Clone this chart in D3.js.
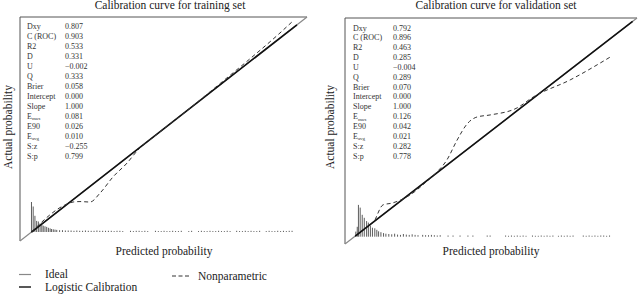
<!DOCTYPE html>
<html><head><meta charset="utf-8">
<script src="https://cdn.jsdelivr.net/npm/d3@7"></script>
<style>body{margin:0;background:#fff}svg{display:block;font-family:"Liberation Serif","DejaVu Serif",serif}</style>
</head><body><svg id="c" width="638" height="294"></svg>
<script>
const titles = ["Calibration curve for training set", "Calibration curve for validation set"];
const statLabels = ["Dxy","C (ROC)","R2","D","U","Q","Brier","Intercept","Slope","E|max","E90","E|avg","S:z","S:p"];
const trainStats = ["0.807","0.903","0.533","0.331","\u22120.002","0.333","0.058","0.000","1.000","0.081","0.026","0.010","\u22120.255","0.799"];
const valStats = ["0.792","0.896","0.463","0.285","\u22120.004","0.289","0.070","0.000","1.000","0.126","0.042","0.021","0.282","0.778"];

const trainLogistic = [0.040, 0.965];
const valLogistic = [0.035, 0.985];

const trainNpX = [0.040,0.157,0.185,0.209,0.244,0.279,0.324,0.373,0.408,0.488,0.599,0.700,0.800,0.900,0.951];
const trainNpY = [0.040,0.161,0.174,0.176,0.174,0.214,0.286,0.348,0.402,0.487,0.600,0.706,0.812,0.922,0.982];
const valNpX = [0.103,0.110,0.130,0.161,0.223,0.274,0.308,0.349,0.384,0.418,0.452,0.497,0.589,0.644,0.771,0.908];
const valNpY = [0.106,0.128,0.173,0.181,0.217,0.270,0.310,0.372,0.460,0.531,0.562,0.571,0.602,0.650,0.726,0.827];

const trainSpikeX = [0.040,0.046,0.052,0.058,0.064,0.070,0.076,0.081,0.087,0.093,0.099,0.105,0.110,0.116,0.122,
 0.128,0.138,0.148,0.158,0.168,0.178,0.188,0.198,0.208,0.218,0.228,0.238,0.248,0.258,0.268,0.278,0.288,0.298,0.308,0.318,0.328,0.338,0.348,0.358,
 0.385,0.395,0.405,0.415,0.425,0.435,0.445,
 0.472,0.482,0.492,0.502,0.512,0.522,0.532,0.542,0.552,0.562,
 0.588,0.598,
 0.622,0.632,0.642,0.652,0.662,0.672,0.682,0.692,0.702,0.712,0.722,0.732,
 0.755,0.765,0.775,0.785,0.795,0.805,0.815,0.825,0.835,
 0.858,0.868,0.878,0.888,0.898,0.908,0.918,0.928,0.938,0.948];
const trainSpikeN = [100,85,54,37,35,28,24,21,19,17,14,12,10,9,8,
 7,6,6,5,5,5,4,5,4,4,5,4,4,4,5,4,4,4,4,4,3,4,4,3,
 4,3,4,4,3,4,3,
 4,3,3,4,3,3,4,3,3,4,
 3,4,
 3,4,3,3,4,3,3,4,3,3,4,3,
 4,3,3,4,3,4,3,3,4,
 3,4,3,3,4,3,4,3,4,4];

const valSpikeX = [0.037,0.042,0.046,0.052,0.059,0.066,0.074,0.080,0.087,0.094,0.102,0.109,0.115,0.123,0.132,0.140,
 0.150,0.160,0.170,0.180,0.190,0.200,0.210,0.220,0.230,0.240,0.250,
 0.266,0.276,0.286,0.296,0.306,0.316,0.326,
 0.353,0.370,0.394,0.421,0.438,
 0.487,0.497,
 0.550,0.560,0.570,0.580,0.590,0.600,0.610,0.620,
 0.642,0.652,0.662,0.672,0.682,0.692,0.702,0.712,
 0.731,0.741,0.751,0.761,0.771,0.781,
 0.816,0.826,0.836,0.846,0.856,0.866,0.876,0.886,0.896,0.906];
const valSpikeN = [17,33,106,97,73,63,52,47,37,30,28,23,18,15,12,10,
 9,8,10,7,6,9,7,6,8,6,5,
 6,5,5,6,5,4,5,
 4,4,4,4,4,
 4,4,
 4,3,4,3,4,3,4,3,
 4,3,3,4,3,4,3,4,
 3,4,3,4,3,4,
 4,3,4,3,4,3,4,4,3,4];

const panels = [
  {x0:20, x1:307, y0:241, y1:17, base:232, title:titles[0], stats:trainStats, lg:trainLogistic, npx:trainNpX, npy:trainNpY, sx:trainSpikeX, sn:trainSpikeN,
   tx:170, lx:7.5, xl:164, labX:27, valX:65, row0:29, rowStep:9.97},
  {x0:345, x1:637, y0:244, y1:18, base:236.7, title:titles[1], stats:valStats, lg:valLogistic, npx:valNpX, npy:valNpY, sx:valSpikeX, sn:valSpikeN,
   tx:496, lx:330, xl:491, labX:353, valX:393, row0:30.5, rowStep:9.85}
];

const svg = d3.select("#c");
const spikeH = d3.scaleLinear().domain([0,100]).range([0,30]);

panels.forEach(p => {
  const x = d3.scaleLinear().domain([0,1]).range([p.x0,p.x1]);
  const y = d3.scaleLinear().domain([0,1]).range([p.y0,p.y1]);
  const g = svg.append("g");
  // frame: left & top
  g.append("path").attr("d",`M${p.x0},${p.y0}V${p.y1}H${p.x1}`).attr("fill","none").attr("stroke","#555").attr("stroke-width",1);
  // ideal
  g.append("line").attr("x1",x(0)).attr("y1",y(0)).attr("x2",x(1)).attr("y2",y(1)).attr("stroke","#888").attr("stroke-width",1.2);
  // spikes
  g.selectAll("line.sp").data(p.sx.map((v,i)=>[v,p.sn[i]])).join("line").attr("class","sp")
    .attr("x1",d=>x(d[0])).attr("x2",d=>x(d[0])).attr("y1",p.base).attr("y2",d=>p.base-spikeH(d[1]))
    .attr("stroke","#333").attr("stroke-width",0.8);
  // logistic
  g.append("line").attr("x1",x(p.lg[0])).attr("y1",y(p.lg[0])).attr("x2",x(p.lg[1])).attr("y2",y(p.lg[1])).attr("stroke","#111").attr("stroke-width",1.6);
  // nonparametric
  const line = d3.line().x(d=>x(d[0])).y(d=>y(d[1])).curve(d3.curveMonotoneX);
  g.append("path").attr("d",line(p.npx.map((v,i)=>[v,p.npy[i]]))).attr("fill","none").attr("stroke","#333").attr("stroke-width",1).attr("stroke-dasharray","4,3");
  // title
  g.append("text").attr("x",p.tx).attr("y",9).attr("text-anchor","middle").attr("font-size",11.5).attr("fill","#222").text(p.title);
  // y label
  g.append("text").attr("transform",`translate(${p.lx+4},127) rotate(-90)`).attr("text-anchor","middle").attr("font-size",11.5).attr("fill","#222").text("Actual probability");
  // x label
  g.append("text").attr("x",p.xl).attr("y",255).attr("text-anchor","middle").attr("font-size",11.5).attr("fill","#222").text("Predicted probability");
  // stats
  statLabels.forEach((lab,i)=>{
    const yy = p.row0 + i*p.rowStep;
    const t = g.append("text").attr("x",p.labX).attr("y",yy).attr("font-size",8).attr("fill","#333");
    if (lab.includes("|")) {
      const [a,b] = lab.split("|");
      t.append("tspan").text(a);
      t.append("tspan").attr("font-size",5).attr("dy",1.5).text(b);
    } else t.text(lab);
    g.append("text").attr("x",p.valX).attr("y",yy).attr("font-size",8).attr("fill","#333").text(p.stats[i]);
  });
});

// legend
const lg = svg.append("g").attr("font-size",11.5).attr("fill","#222");
lg.append("line").attr("x1",19).attr("x2",31).attr("y1",274.5).attr("y2",274.5).attr("stroke","#888").attr("stroke-width",1.2);
lg.append("text").attr("x",45).attr("y",278).text("Ideal");
lg.append("line").attr("x1",19).attr("x2",31).attr("y1",287).attr("y2",287).attr("stroke","#111").attr("stroke-width",1.4);
lg.append("text").attr("x",45).attr("y",291).text("Logistic Calibration");
lg.append("line").attr("x1",172).attr("x2",191).attr("y1",276).attr("y2",276).attr("stroke","#333").attr("stroke-width",1).attr("stroke-dasharray","4,2.5");
lg.append("text").attr("x",198).attr("y",280).text("Nonparametric");
</script></body></html>
